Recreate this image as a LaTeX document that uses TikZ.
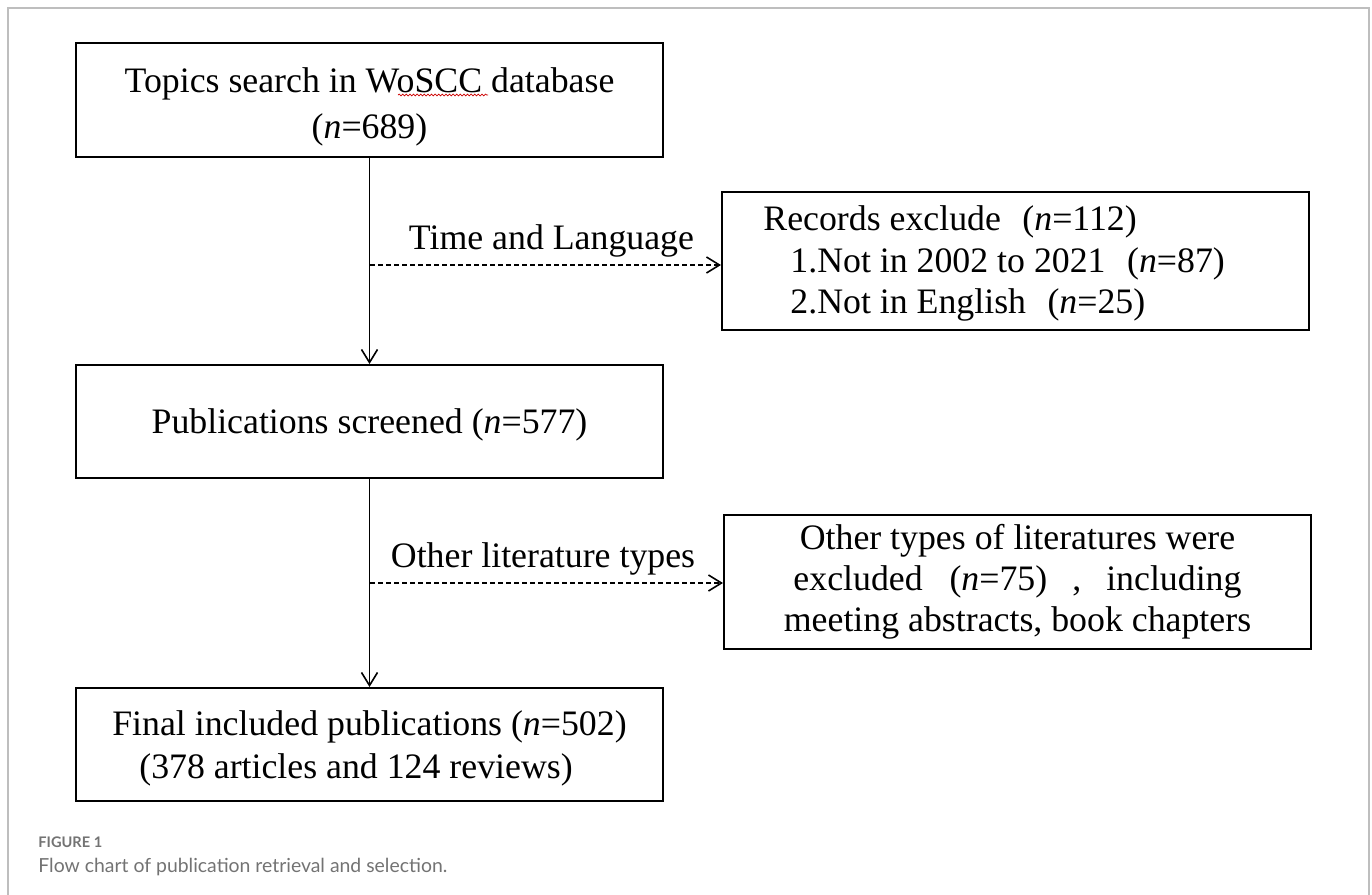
\documentclass[tikz,border=0pt]{standalone}
\usepackage{fontspec}
\setmainfont{Liberation Serif}
\newfontfamily\capfont{Lato}
\usetikzlibrary{arrows.meta,decorations.pathmorphing}
\definecolor{framegray}{RGB}{190,190,190}
\definecolor{capgray}{RGB}{115,115,115}
\begin{document}
\begin{tikzpicture}[x=0.5pt,y=-0.5pt,
  box/.style={draw=black,line width=1pt,minimum width=293.5pt,inner sep=0pt},
  txt/.style={inner sep=0pt,align=center,font=\fontsize{17.9}{23}\selectfont},
  tip/.style={-{Straight Barb[length=6.5pt,width=8pt,line width=0.8pt]}},
  solidarrow/.style={tip,line width=0.8pt},
  dasharrow/.style={tip,line width=0.8pt,dash pattern=on 2.5pt off 1.5pt},
  lbl/.style={font=\fontsize{17.9}{21}\selectfont,anchor=base,inner sep=0pt}]
\useasboundingbox (0,0) rectangle (1372,895);
\draw[framegray,line width=1pt] (8,895) -- (8,8) -- (1369,8) -- (1369,895);

% boxes
\node[box,minimum height=57pt] (b1) at (369.5,100) {};
\node[box,minimum height=69pt] (b2) at (1015.5,261) {};
\node[box,minimum height=56.5pt] (b3) at (369.5,421.5) {};
\node[box,minimum height=67pt] (b4) at (1017.5,582) {};
\node[box,minimum height=56.5pt] (b5) at (369.5,744.5) {};

% box texts
\node[txt] (t1) at ([yshift=-3.3pt]b1.center)
  {Topics search in WoSCC database\\(\textit{n}=689)};
\node[txt,align=left,font=\fontsize{17.9}{20.75}\selectfont,anchor=west] (t2)
  at ([xshift=21pt,yshift=-1.3pt]b2.west)
  {Records exclude\hspace{0.6em}(\textit{n}=112)\\
   \hspace{13.5pt}1.Not in 2002 to 2021\hspace{0.6em}(\textit{n}=87)\\
   \hspace{13.5pt}2.Not in English\hspace{0.6em}(\textit{n}=25)};
\node[txt] (t3) at ([yshift=-1.5pt]b3.center)
  {Publications screened (\textit{n}=577)};
\node[txt,font=\fontsize{17.9}{20.5}\selectfont] (t4) at (b4.center)
  {Other types of literatures were\\
   excluded\hspace{0.75em}(\textit{n}=75)\hspace{0.7em},\hspace{0.7em}including\\
   meeting abstracts, book chapters};
\node[txt,align=left,font=\fontsize{17.9}{21.5}\selectfont] (t5) at ([yshift=-1.75pt]b5.center)
  {Final included publications (\textit{n}=502)\\\hspace{13.5pt}(378 articles and 124 reviews)};

% spell-check squiggle under WoSCC
\coordinate (sq1) at (398,95);
\coordinate (sq2) at (488,95);
\draw[red!80!black,line width=0.35pt,decorate,decoration={snake,amplitude=0.45pt,segment length=1.8pt}] (sq1) -- (sq2);

% connectors
\draw[solidarrow] (b1) -- (b3);
\draw[solidarrow] (b3) -- (b5);

\coordinate (d1) at (370,265);
\coordinate (d2) at (370,583);
\draw[dasharrow] (d1) -- (d1 -| b2.west);
\draw[dasharrow] (d2) -- (d2 -| b4.west);
\node[lbl] (l1) at (551.5,249) {Time and Language};
\node[lbl] (l2) at (543,567) {Other literature types};

% caption
\node[anchor=base west,inner sep=0pt,text=capgray,font=\capfont\bfseries\fontsize{7.3}{9}\selectfont] (cap1) at (38,847) {FIGURE 1};
\node[anchor=base west,inner sep=0pt,text=capgray,font=\capfont\fontsize{9.7}{12}\selectfont] (cap2) at (38,872) {Flow chart of publication retrieval and selection.};
\end{tikzpicture}
\end{document}
